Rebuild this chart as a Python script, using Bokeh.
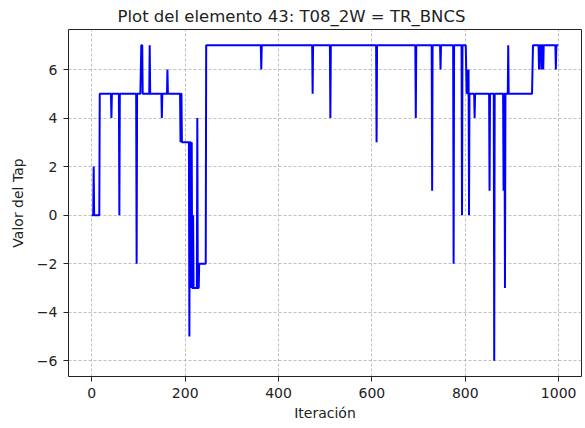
import numpy as np
from bokeh.plotting import figure
from bokeh.models import Range1d, FixedTicker
from bokeh.embed import file_html
from bokeh.resources import INLINE

# Tap position over the run: each entry gives the iteration where the tap
# changes and the value it holds from that iteration on.
change_iter = [0, 4, 5, 17, 42, 43, 59, 60, 96, 97, 105, 106, 109, 124, 125,
               150, 151, 162, 163, 190, 191, 193, 209, 210, 213, 214, 215,
               217, 218, 226, 227, 230, 245, 363, 364, 473, 474, 511, 512,
               610, 611, 694, 695, 729, 730, 747, 748, 775, 776, 793, 794,
               802, 803, 804, 805, 807, 808, 809, 820, 821, 852, 853, 862,
               863, 882, 883, 885, 886, 892, 893, 944, 945, 958, 959, 963,
               964, 967, 968, 994, 995]
change_tap = [0, 2, 0, 5, 4, 5, 0, 5, -2, 5, 6, 7, 5, 7, 5,
              4, 5, 6, 5, 3, 5, 3, -5, 3, -3, 3, -3,
              0, -3, 4, -3, -2, 7, 6, 7, 5, 7, 4, 7,
              3, 7, 4, 7, 1, 7, 6, 7, -2, 7, 0, 7,
              6, 5, 6, 5, 6, 0, 5, 4, 5, 1, 5, -6,
              5, 1, 5, -3, 5, 7, 5, 6, 7, 6, 7, 6,
              7, 6, 7, 6, 7]
n_iter = 1000

x_ticks = [0, 200, 400, 600, 800, 1000]
y_ticks = [-6, -4, -2, 0, 2, 4, 6]
y_tick_labels = ["\u22126", "\u22124", "\u22122", "0", "2", "4", "6"]

iteration = np.arange(n_iter)
pos = np.searchsorted(change_iter, iteration, side="right") - 1
tap = np.asarray(change_tap)[pos]

FONT = "DejaVu Sans"

p = figure(width=585, height=428, output_backend="svg", toolbar_location=None,
           x_range=Range1d(-49.95, 1048.95), y_range=Range1d(-6.65, 7.65),
           min_border_left=68, min_border_right=4, min_border_top=29,
           min_border_bottom=52, background_fill_color="white",
           border_fill_color="white")

p.line(iteration, tap, line_color="#0000ff", line_width=2)

p.title.text = "Plot del elemento 43: T08_2W = TR_BNCS"
p.title.align = "left"
p.title.offset = 49
p.title.text_font = FONT
p.title.text_font_size = "16.5px"
p.title.text_font_style = "normal"
p.title.text_color = "#222222"
p.title.standoff = 7

p.outline_line_color = "#222222"
p.outline_line_width = 1

p.xaxis.ticker = FixedTicker(ticks=x_ticks)
p.yaxis.ticker = FixedTicker(ticks=y_ticks)
p.yaxis.major_label_overrides = {t: s for t, s in zip(y_ticks, y_tick_labels)}

for ax in (p.xaxis[0], p.yaxis[0]):
    ax.axis_line_color = None
    ax.major_tick_in = 0
    ax.major_tick_out = 5
    ax.major_tick_line_color = "#222222"
    ax.minor_tick_line_color = None
    ax.major_label_text_font = FONT
    ax.major_label_text_font_size = "14px"
    ax.major_label_text_color = "#222222"
    ax.axis_label_text_font = FONT
    ax.axis_label_text_font_size = "14px"
    ax.axis_label_text_font_style = "normal"
    ax.axis_label_text_color = "#222222"
    ax.major_label_standoff = 6

p.xaxis.axis_label = "Iteración"
p.yaxis.axis_label = "Valor del Tap"
p.xaxis.axis_label_standoff = 4
p.yaxis.axis_label_standoff = 8

p.grid.grid_line_color = "#b0b0b0"
p.grid.grid_line_dash = "3 2"
p.grid.grid_line_width = 0.8

open("out.html", "w").write(file_html(p, INLINE))
